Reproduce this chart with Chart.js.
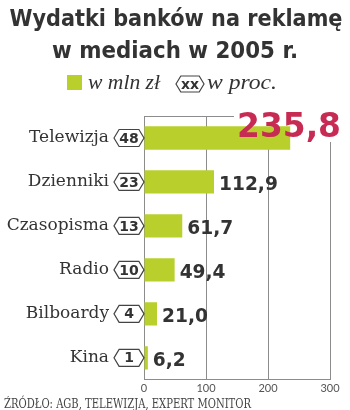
<!DOCTYPE html>
<html>
<head>
<meta charset="utf-8">
<script src="https://cdn.jsdelivr.net/npm/chart.js@4"></script>
<style>
  html, body { margin: 0; padding: 0; background: #fff; }
  #wrap { position: relative; width: 350px; height: 410px; }
</style>
</head>
<body>
<div id="wrap"><canvas id="chart" width="350" height="410"></canvas></div>
<script>
const categories = ['Telewizja', 'Dzienniki', 'Czasopisma', 'Radio', 'Bilboardy', 'Kina']
const valuesMln = [235.8, 112.9, 61.7, 49.4, 21.0, 6.2]
const sharesPct = [48, 23, 13, 10, 4, 1]
const xTicks = [0, 100, 200, 300]

const TITLE = ['Wydatki banków na reklamę', 'w mediach w 2005 r.']
const LEGEND_MLN = 'w mln zł'
const LEGEND_PCT = 'w proc.'
const SOURCE = 'ŹRÓDŁO: AGB, TELEWIZJA, EXPERT MONITOR'

const GREEN = '#b8cf2c'
const RED = '#c72a52'
const DARK = '#333333'
const GRID = '#8c8c8c'
const SANS = '"DejaVu Sans", sans-serif'
const SLAB = '"DejaVu Serif", serif'
const ITALIC = 'italic 20px "Liberation Serif", serif'

const fmt = v => v.toFixed(1).replace('.', ',')

// draw text squeezed/stretched to a given width
function fitText(ctx, text, x, y, width, align = 'left') {
  const w = ctx.measureText(text).width
  ctx.save()
  ctx.textAlign = align
  ctx.translate(x, y)
  ctx.scale(width / w, 1)
  ctx.fillText(text, 0, 0)
  ctx.restore()
}

function badge(ctx, xl, xr, cy, h, text) {
  const ind = h * 0.3
  ctx.beginPath()
  ctx.moveTo(xl, cy)
  ctx.lineTo(xl + ind, cy - h / 2)
  ctx.lineTo(xr - ind, cy - h / 2)
  ctx.lineTo(xr, cy)
  ctx.lineTo(xr - ind, cy + h / 2)
  ctx.lineTo(xl + ind, cy + h / 2)
  ctx.closePath()
  ctx.fillStyle = '#fff'
  ctx.fill()
  ctx.strokeStyle = '#444'
  ctx.lineWidth = 1.2
  ctx.stroke()
  ctx.fillStyle = DARK
  ctx.font = 'bold 14px ' + SANS
  ctx.textAlign = 'center'
  ctx.textBaseline = 'middle'
  ctx.fillText(text, (xl + xr) / 2, cy + 1)
}

const maxIdx = valuesMln.indexOf(Math.max(...valuesMln))

const decor = {
  id: 'decor',
  beforeDatasetsDraw(chart) {
    const { ctx, chartArea } = chart
    ctx.save()
    // top frame line
    ctx.strokeStyle = GRID
    ctx.lineWidth = 1
    ctx.beginPath()
    ctx.moveTo(chartArea.left, chartArea.top + 0.5)
    ctx.lineTo(chartArea.right, chartArea.top + 0.5)
    ctx.stroke()
    // white knockout behind the big label
    const y = chart.scales.y.getPixelForValue(maxIdx)
    ctx.fillStyle = '#fff'
    ctx.fillRect(234, y - 30, 112, 34)
    ctx.restore()
  },
  afterDatasetsDraw(chart) {
    const { ctx, chartArea, scales } = chart
    ctx.save()

    categories.forEach((cat, i) => {
      const y = scales.y.getPixelForValue(i)
      ctx.fillStyle = DARK
      ctx.font = '17px ' + SLAB
      ctx.textAlign = 'right'
      ctx.textBaseline = 'middle'
      fitText(ctx, cat, 109, y, ctx.measureText(cat).width * 1.0, 'right')

      badge(ctx, chartArea.left - 30, chartArea.left, y, 17, String(sharesPct[i]))

      const xEnd = scales.x.getPixelForValue(valuesMln[i])
      ctx.textBaseline = 'alphabetic'
      if (i === maxIdx) {
        ctx.fillStyle = RED
        ctx.font = 'bold 33px ' + SANS
        fitText(ctx, fmt(valuesMln[i]), 341, y - 1, 104, 'right')
      } else {
        ctx.fillStyle = DARK
        ctx.font = 'bold 20px ' + SANS
        fitText(ctx, fmt(valuesMln[i]), xEnd + 5, y + 8, ctx.measureText(fmt(valuesMln[i])).width * 0.93)
      }
    })

    // title
    ctx.fillStyle = DARK
    ctx.font = 'bold 23px ' + SANS
    fitText(ctx, TITLE[0], 176, 26, 333, 'center')
    fitText(ctx, TITLE[1], 175, 58, 246, 'center')

    // legend
    ctx.fillStyle = GREEN
    ctx.fillRect(67, 75, 15, 15)
    ctx.fillStyle = DARK
    ctx.font = ITALIC
    fitText(ctx, LEGEND_MLN, 88, 89, 72)
    badge(ctx, 176, 204, 84, 16, 'xx')
    ctx.fillStyle = DARK
    ctx.font = ITALIC
    ctx.textBaseline = 'alphabetic'
    fitText(ctx, LEGEND_PCT, 207, 89, 70)

    // source
    ctx.fillStyle = '#444'
    ctx.font = '12.5px ' + SLAB
    fitText(ctx, SOURCE, 4, 408, 247)

    ctx.restore()
  }
}

new Chart(document.getElementById('chart'), {
  type: 'bar',
  data: {
    labels: categories,
    datasets: [{
      data: valuesMln,
      backgroundColor: GREEN,
      barPercentage: 0.53,
      categoryPercentage: 1,
    }],
  },
  options: {
    indexAxis: 'y',
    responsive: false,
    animation: false,
    events: [],
    layout: { padding: { left: 144, right: 20, top: 116, bottom: 13 } },
    plugins: {
      legend: { display: false },
      tooltip: { enabled: false },
    },
    scales: {
      x: {
        min: 0,
        max: 300,
        afterBuildTicks: scale => { scale.ticks = xTicks.map(v => ({ value: v })) },
        ticks: {
          color: '#555',
          font: { family: 'Lato, sans-serif', size: 11 },
          padding: 2,
          maxRotation: 0,
        },
        grid: { color: GRID, lineWidth: 1, drawTicks: false },
        border: { display: true, color: GRID },
      },
      y: {
        ticks: { display: false },
        grid: { display: false, drawTicks: false },
        border: { display: false },
      },
    },
  },
  plugins: [decor],
})
</script>
</body>
</html>
